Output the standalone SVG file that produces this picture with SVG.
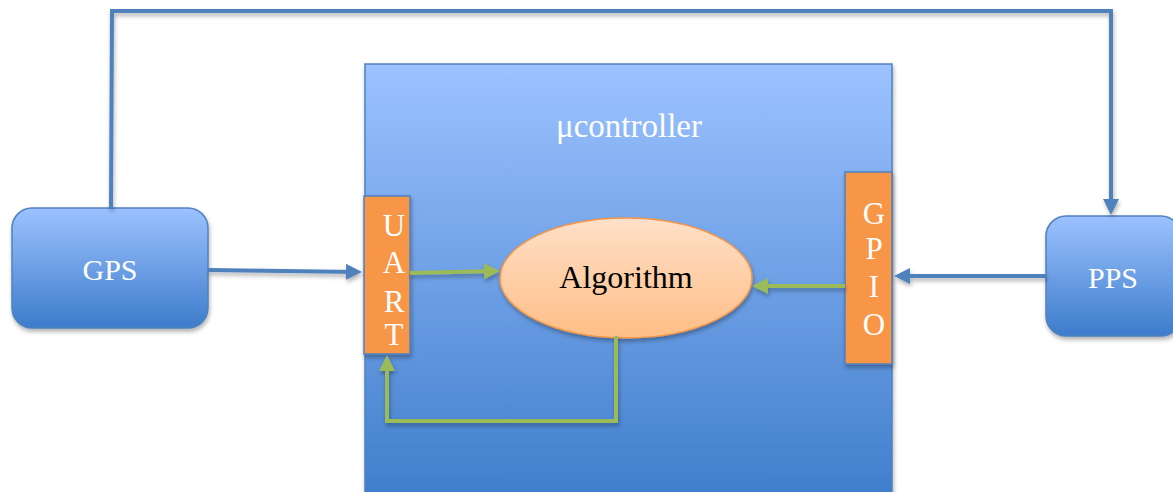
<svg xmlns="http://www.w3.org/2000/svg" width="1173" height="492" viewBox="0 0 1173 492">
<style>
.lbl{font-family:"Liberation Serif","DejaVu Serif",serif;fill:#fff;text-anchor:middle}
.ltr{font-family:"Liberation Serif","DejaVu Serif",serif;fill:#fff;text-anchor:middle;font-size:31px}
.blue{stroke:#4F81BD;stroke-width:4;fill:none}
.green{stroke:#9BBB59;stroke-width:4;fill:none}
.port{fill:#F79646;stroke:#4F81BD;stroke-width:1.5}
</style>
<defs>
<linearGradient id="gb" x1="0" y1="0" x2="0" y2="1">
<stop offset="0" stop-color="#9CC2FF"/><stop offset="1" stop-color="#3D7CCB"/>
</linearGradient>
<linearGradient id="gm" x1="0" y1="0" x2="0" y2="1">
<stop offset="0" stop-color="#9CC2FF"/><stop offset="1" stop-color="#3E7DCB"/>
</linearGradient>
<linearGradient id="go" x1="0" y1="0" x2="0" y2="1">
<stop offset="0" stop-color="#FFE0C8"/><stop offset="1" stop-color="#FFBE86"/>
</linearGradient>
<filter id="sh" x="-10%" y="-10%" width="130%" height="130%">
<feDropShadow dx="1" dy="3" stdDeviation="2" flood-color="#000" flood-opacity="0.3"/>
</filter>
<marker id="ab" markerWidth="4" markerHeight="4" refX="3" refY="2" orient="auto" markerUnits="strokeWidth">
<path d="M0,0 L4,2 L0,4 z" fill="#4F81BD"/>
</marker>
<marker id="ag" markerWidth="4" markerHeight="4" refX="3" refY="2" orient="auto" markerUnits="strokeWidth">
<path d="M0,0 L4,2 L0,4 z" fill="#9BBB59"/>
</marker>
</defs>
<g id="mcu">
<rect x="365" y="64" width="527" height="440" fill="url(#gm)" stroke="#4F81BD" stroke-width="1.5" filter="url(#sh)"/>
<text class="lbl" x="629" y="137" font-size="33">μcontroller</text>
</g>
<g id="gps">
<rect x="12" y="208" width="196" height="120" rx="20" fill="url(#gb)" stroke="#4F81BD" stroke-width="1.5" filter="url(#sh)"/>
<text class="lbl" x="110" y="280" font-size="30">GPS</text>
</g>
<g id="pps">
<rect x="1046" y="216" width="135" height="120" rx="20" fill="url(#gb)" stroke="#4F81BD" stroke-width="1.5" filter="url(#sh)"/>
<text class="lbl" x="1113" y="288" font-size="30">PPS</text>
</g>
<g id="uart">
<rect class="port" x="364" y="196" width="46" height="158" filter="url(#sh)"/>
<text class="ltr" x="394" y="236">U</text>
<text class="ltr" x="394" y="273">A</text>
<text class="ltr" x="394" y="312">R</text>
<text class="ltr" x="394" y="345">T</text>
</g>
<g id="gpio">
<rect class="port" x="845" y="172" width="47" height="192" filter="url(#sh)"/>
<text class="ltr" x="874" y="224">G</text>
<text class="ltr" x="874" y="259">P</text>
<text class="ltr" x="874" y="297">I</text>
<text class="ltr" x="874" y="335">O</text>
</g>
<g id="algorithm">
<ellipse cx="626" cy="278" rx="126" ry="60" fill="url(#go)" stroke="#F79646" stroke-width="1.5" filter="url(#sh)"/>
<text x="626" y="288" font-size="32" font-family="Liberation Serif,DejaVu Serif,serif" fill="#000" text-anchor="middle">Algorithm</text>
</g>
<g id="connectors" filter="url(#sh)">
<polyline class="blue" points="111,208 112,11 1111,11 1111,211" marker-end="url(#ab)"/>
<line class="blue" x1="208" y1="270" x2="358" y2="272" marker-end="url(#ab)"/>
<line class="blue" x1="1046" y1="276" x2="898" y2="276" marker-end="url(#ab)"/>
<line class="green" x1="410" y1="273" x2="496" y2="271" marker-end="url(#ag)"/>
<line class="green" x1="845" y1="286" x2="756" y2="286" marker-end="url(#ag)"/>
<polyline class="green" points="616,336 616,421 387,421 387,359" marker-end="url(#ag)"/>
</g>
</svg>
